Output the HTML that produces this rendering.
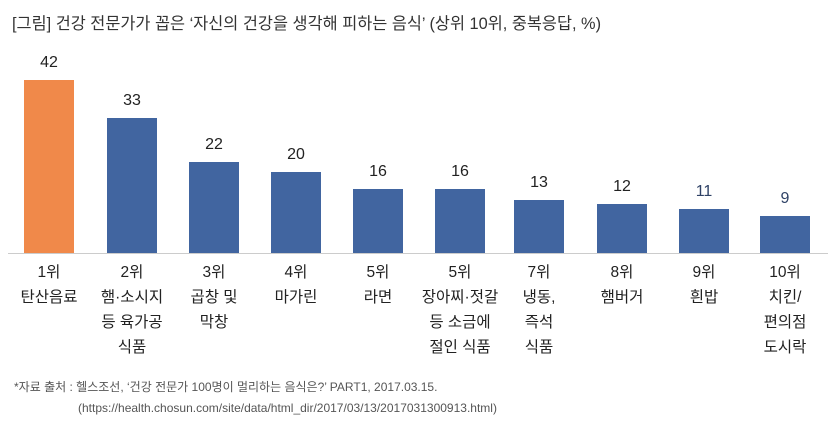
<!DOCTYPE html><html><head><meta charset="utf-8"><style>
body{margin:0;width:835px;height:427px;background:#fff;position:relative;overflow:hidden;font-family:"Liberation Sans","Noto Sans CJK KR",sans-serif;color:#222}
.t{position:absolute;left:12px;top:10px;font-size:16.35px;color:#333;white-space:nowrap}
.b{position:absolute;width:50px}
.v{position:absolute;width:80px;text-align:center;font-size:16px}
.c{position:absolute;width:90px;text-align:center;font-size:15.5px;line-height:25px;top:260px}
.base{position:absolute;left:8px;width:820px;top:253px;height:1px;background:#ccc}
.f{position:absolute;font-size:12px;color:#555;white-space:nowrap}
</style></head><body>
<div class="t">[그림] 건강 전문가가 꼽은 ‘자신의 건강을 생각해 피하는 음식’ (상위 10위, 중복응답, %)</div>
<div class="b" style="left:24px;top:80px;height:173px;background:#F0894A"></div>
<div class="b" style="left:107px;top:118px;height:135px;background:#4165A0"></div>
<div class="b" style="left:189px;top:162px;height:91px;background:#4165A0"></div>
<div class="b" style="left:271px;top:172px;height:81px;background:#4165A0"></div>
<div class="b" style="left:353px;top:189px;height:64px;background:#4165A0"></div>
<div class="b" style="left:435px;top:189px;height:64px;background:#4165A0"></div>
<div class="b" style="left:514px;top:200px;height:53px;background:#4165A0"></div>
<div class="b" style="left:597px;top:204px;height:49px;background:#4165A0"></div>
<div class="b" style="left:679px;top:209px;height:44px;background:#4165A0"></div>
<div class="b" style="left:760px;top:216px;height:37px;background:#4165A0"></div>
<div class="base"></div>
<div class="v" style="left:9px;top:54px">42</div>
<div class="v" style="left:92px;top:92px">33</div>
<div class="v" style="left:174px;top:136px">22</div>
<div class="v" style="left:256px;top:146px">20</div>
<div class="v" style="left:338px;top:163px">16</div>
<div class="v" style="left:420px;top:163px">16</div>
<div class="v" style="left:499px;top:174px">13</div>
<div class="v" style="left:582px;top:178px">12</div>
<div class="v" style="left:664px;top:183px;color:#2f4266">11</div>
<div class="v" style="left:745px;top:190px;color:#2f4266">9</div>
<div class="c" style="left:4px">1위<br>탄산음료</div>
<div class="c" style="left:87px">2위<br>햄·소시지<br>등 육가공<br>식품</div>
<div class="c" style="left:169px">3위<br>곱창 및<br>막창</div>
<div class="c" style="left:251px">4위<br>마가린</div>
<div class="c" style="left:333px">5위<br>라면</div>
<div class="c" style="left:415px">5위<br>장아찌·젓갈<br>등 소금에<br>절인 식품</div>
<div class="c" style="left:494px">7위<br>냉동,<br>즉석<br>식품</div>
<div class="c" style="left:577px">8위<br>햄버거</div>
<div class="c" style="left:659px">9위<br>흰밥</div>
<div class="c" style="left:740px">10위<br>치킨/<br>편의점<br>도시락</div>
<div class="f" style="left:14px;top:378px">*자료 출처 : 헬스조선, ‘건강 전문가 100명이 멀리하는 음식은?’ PART1, 2017.03.15.</div>
<div class="f" style="left:78px;top:401px">(https://health.chosun.com/site/data/html_dir/2017/03/13/2017031300913.html)</div>
</body></html>
